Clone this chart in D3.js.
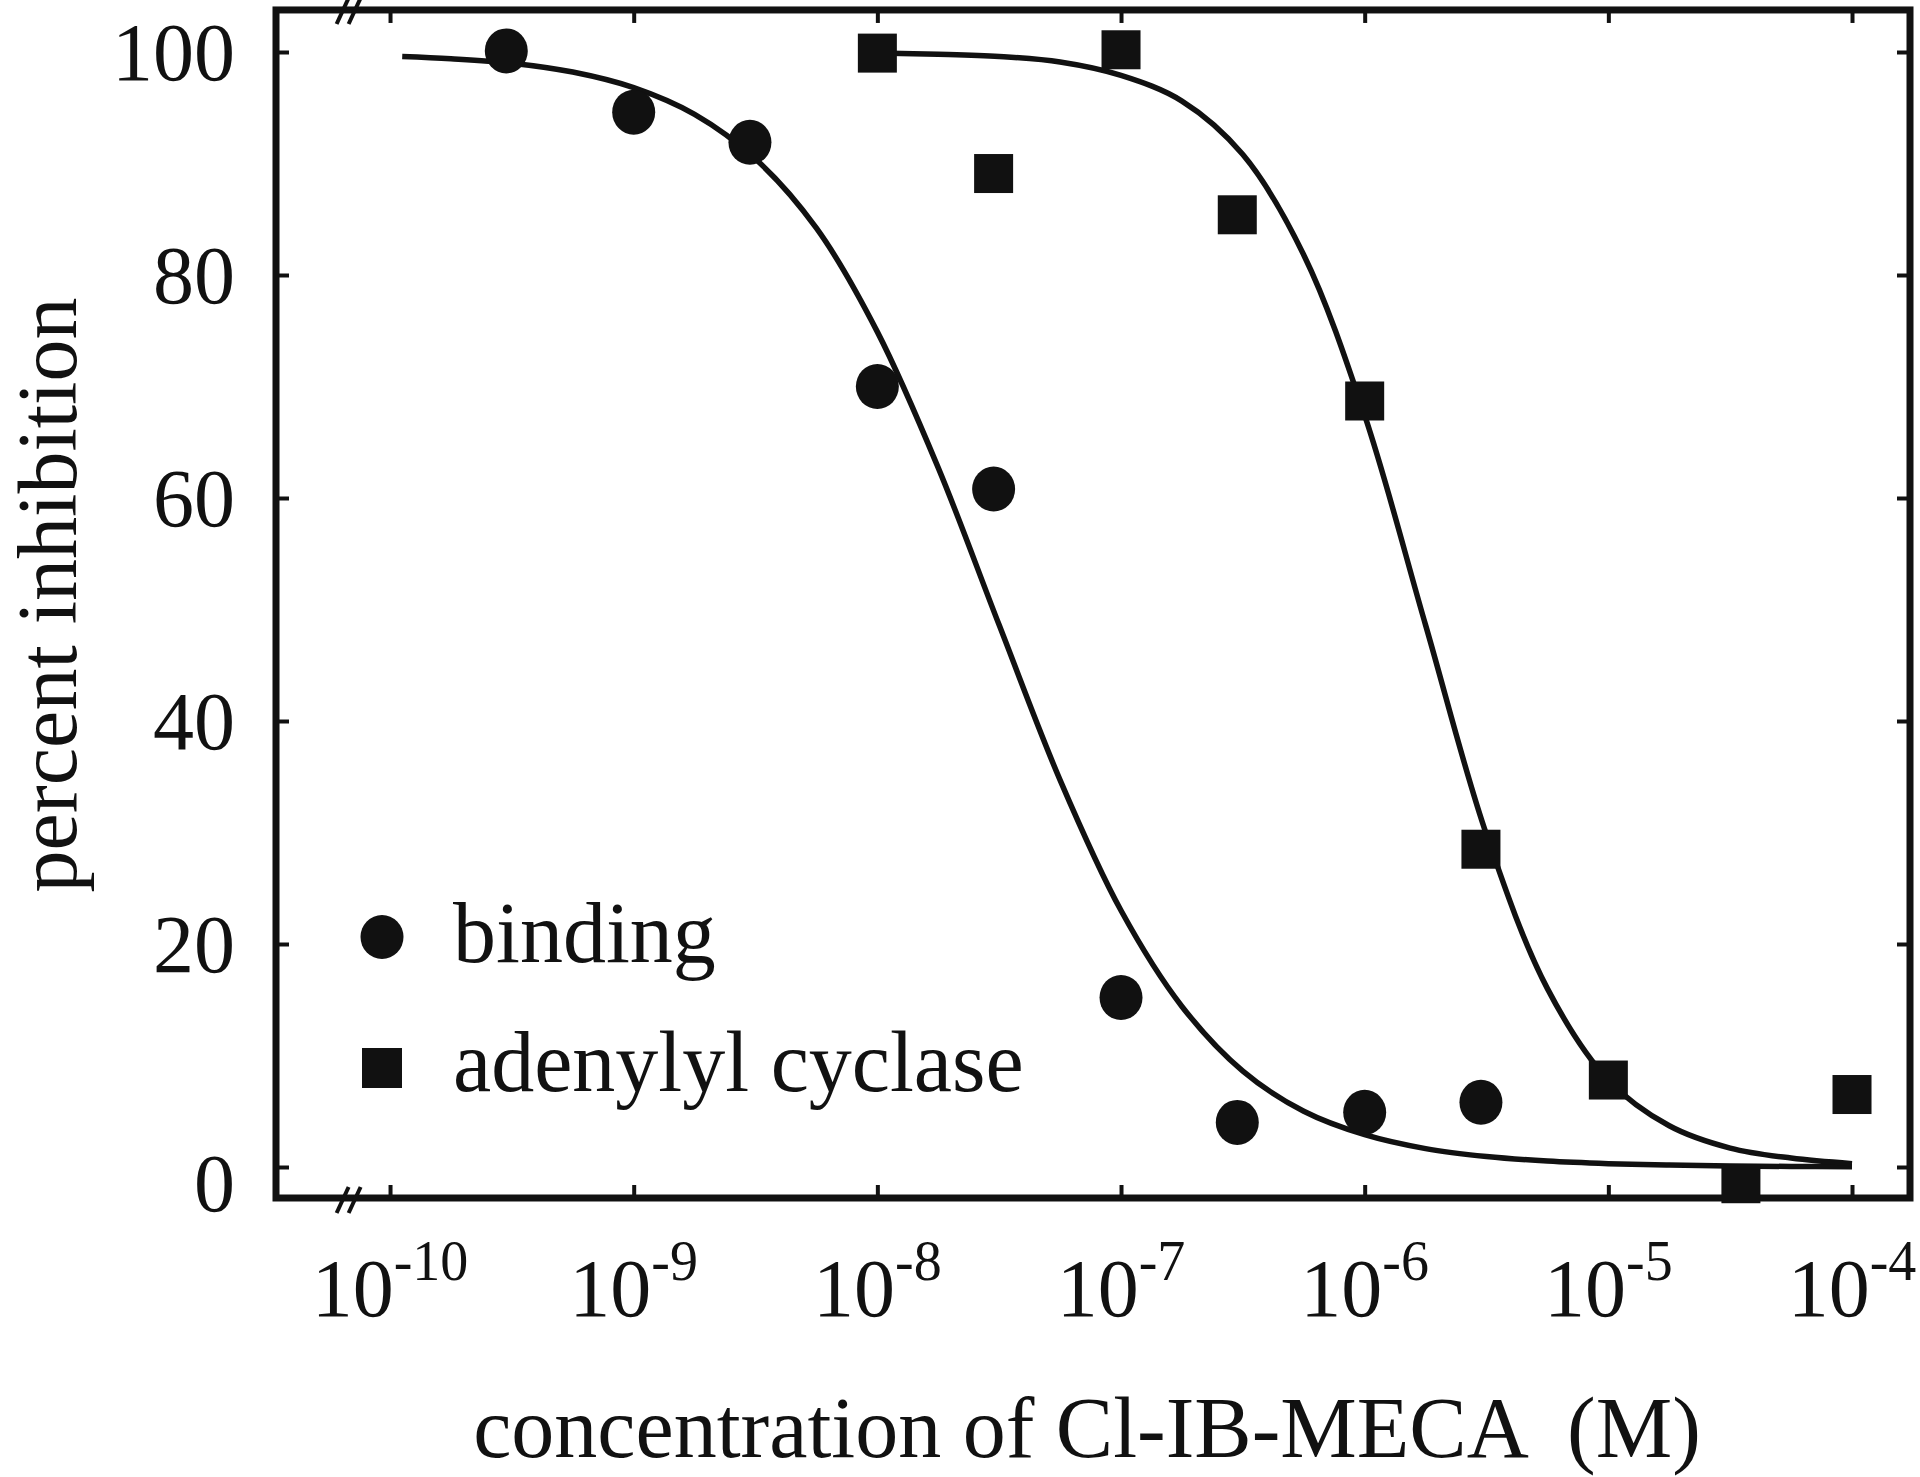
<!DOCTYPE html>
<html>
<head>
<meta charset="utf-8">
<script src="https://cdn.jsdelivr.net/npm/d3@7"></script>
<style>
  html, body { margin: 0; padding: 0; background: #fff; }
  svg { display: block; }
  text { font-family: "Liberation Serif", "Times New Roman", serif; fill: #111; }
</style>
</head>
<body>
<svg id="chart" width="1920" height="1477"></svg>
<script>
// ---------- data ----------
const xTickExponents = [-10, -9, -8, -7, -6, -5, -4];
const yTickValues = [0, 20, 40, 60, 80, 100];

const bindingConc   = [3e-10, 1e-9, 3e-9, 1e-8, 3e-8, 1e-7, 3e-7, 1e-6, 3e-6];
const bindingValues = [100.1, 94.6, 91.9, 70.0, 60.8, 15.2, 4.0, 4.9, 5.8];

const cyclaseConc   = [1e-8, 3e-8, 1e-7, 3e-7, 1e-6, 3e-6, 1e-5, 3.5e-5, 1e-4];
const cyclaseValues = [99.9, 89.1, 100.2, 85.4, 68.7, 28.5, 7.8, -1.5, 6.5];

// fitted curves (log10 of concentration, % inhibition)
const bindingFitExp    = [-9.95, -9.75, -9.5, -9.25, -9, -8.75, -8.5, -8.25, -8, -7.75, -7.5, -7.25, -7, -6.75, -6.5, -6.25, -6, -5.75, -5.5, -5.25, -5, -4.75, -4.5, -4.25, -4];
const bindingFitValues = [99.6, 99.4, 99.0, 98.2, 96.8, 94.4, 90.4, 84.2, 74.9, 62.7, 48.6, 34.7, 23.0, 14.4, 8.6, 5.0, 2.9, 1.65, 0.94, 0.53, 0.3, 0.17, 0.09, 0.05, 0.03];

const cyclaseFitExp    = [-8, -7.75, -7.5, -7.25, -7, -6.75, -6.5, -6.25, -6, -5.75, -5.5, -5.25, -5, -4.75, -4.5, -4.25, -4];
const cyclaseFitValues = [99.9, 99.8, 99.6, 99.1, 97.9, 95.6, 90.8, 81.8, 67.4, 48.6, 29.8, 16.0, 7.8, 3.7, 1.7, 0.8, 0.3];

const legendLabels = ["binding", "adenylyl cyclase"];
const xTitle = "concentration of Cl-IB-MECA  (M)";
const yTitle = "percent inhibition";

// ---------- chart ----------
const ink = "#111";
const svg = d3.select("#chart");

const xDomain = [Math.pow(10, -10.468), Math.pow(10, -3.762)];
const yDomain = [-2.78, 103.77];
const x = d3.scaleLog().domain(xDomain).range([276, 1910]);
const y = d3.scaleLinear().domain([0, 100]).range([1167, 52]);

const pLeft = x(xDomain[0]), pRight = x(xDomain[1]);
const pTop = y(yDomain[1]), pBottom = y(yDomain[0]);

// ticks (inward)
const xTicks = xTickExponents.map(e => Math.pow(10, e));
function styleTicks(g) {
  g.select(".domain").remove();
  g.selectAll("line").attr("stroke", ink).attr("stroke-width", 4);
}
svg.append("g").attr("transform", `translate(0,${pBottom})`)
  .call(d3.axisBottom(x).tickValues(xTicks).tickSize(-13).tickFormat("")).call(styleTicks);
svg.append("g").attr("transform", `translate(0,${pTop})`)
  .call(d3.axisTop(x).tickValues(xTicks).tickSize(-13).tickFormat("")).call(styleTicks);
svg.append("g").attr("transform", `translate(${pLeft},0)`)
  .call(d3.axisLeft(y).tickValues(yTickValues).tickSize(-13).tickFormat("")).call(styleTicks);
svg.append("g").attr("transform", `translate(${pRight},0)`)
  .call(d3.axisRight(y).tickValues(yTickValues).tickSize(-13).tickFormat("")).call(styleTicks);

// frame
svg.append("rect")
  .attr("x", pLeft).attr("y", pTop)
  .attr("width", pRight - pLeft).attr("height", pBottom - pTop)
  .attr("fill", "none").attr("stroke", ink).attr("stroke-width", 7);

// axis break marks "//"
function breakMark(cx, cy) {
  [-6, 6].forEach(dx => {
    svg.append("line")
      .attr("x1", cx + dx - 6).attr("y1", cy + 13)
      .attr("x2", cx + dx + 6).attr("y2", cy - 13)
      .attr("stroke", ink).attr("stroke-width", 4);
  });
}
const breakX = x(Math.pow(10, -10.17));
breakMark(breakX, pTop + 1);
breakMark(breakX, pBottom + 2);

// y tick labels
svg.append("g").selectAll("text").data(yTickValues).join("text")
  .attr("x", pLeft - 41)
  .attr("y", d => y(d) + (d === 0 ? 44 : 28))
  .attr("text-anchor", "end")
  .attr("font-size", 82)
  .text(d => d);

// x tick labels 10^n
const xl = svg.append("g").selectAll("text").data(xTickExponents).join("text")
  .attr("x", d => x(Math.pow(10, d)))
  .attr("y", 1316)
  .attr("text-anchor", "middle")
  .attr("font-size", 82);
xl.append("tspan").text("10");
xl.append("tspan").attr("font-size", 56).attr("dy", -36).text(d => "-" + Math.abs(d));

// axis titles
svg.append("text")
  .attr("x", (pLeft + pRight) / 2 - 6).attr("y", 1457)
  .attr("text-anchor", "middle").attr("font-size", 86)
  .style("white-space", "pre")
  .text(xTitle);
svg.append("text")
  .attr("transform", `translate(76,${595}) rotate(-90)`)
  .attr("text-anchor", "middle").attr("font-size", 84)
  .text(yTitle);

// fitted curves
const line = d3.line()
  .x(d => x(Math.pow(10, d[0])))
  .y(d => y(d[1]))
  .curve(d3.curveCatmullRom.alpha(0.5));
svg.append("path")
  .datum(bindingFitExp.map((e, i) => [e, bindingFitValues[i]]))
  .attr("d", line).attr("fill", "none").attr("stroke", ink).attr("stroke-width", 5.5);
svg.append("path")
  .datum(cyclaseFitExp.map((e, i) => [e, cyclaseFitValues[i]]))
  .attr("d", line).attr("fill", "none").attr("stroke", ink).attr("stroke-width", 5.5);

// data points
svg.append("g").selectAll("ellipse").data(bindingConc.map((c, i) => [c, bindingValues[i]])).join("ellipse")
  .attr("cx", d => x(d[0])).attr("cy", d => y(d[1]))
  .attr("rx", 21.5).attr("ry", 22.5).attr("fill", ink);
const sq = 39;
svg.append("g").selectAll("rect").data(cyclaseConc.map((c, i) => [c, cyclaseValues[i]])).join("rect")
  .attr("x", d => x(d[0]) - sq / 2).attr("y", d => y(d[1]) - sq / 2)
  .attr("width", sq).attr("height", sq).attr("fill", ink);

// legend
const lg = svg.append("g");
lg.append("ellipse").attr("cx", 382).attr("cy", 937).attr("rx", 21.5).attr("ry", 22).attr("fill", ink);
lg.append("rect").attr("x", 382 - 20).attr("y", 1068 - 20).attr("width", 40).attr("height", 40).attr("fill", ink);
lg.selectAll("text").data(legendLabels).join("text")
  .attr("x", 453).attr("y", (d, i) => i === 0 ? 962 : 1091)
  .attr("font-size", 86)
  .text(d => d);
</script>
</body>
</html>
